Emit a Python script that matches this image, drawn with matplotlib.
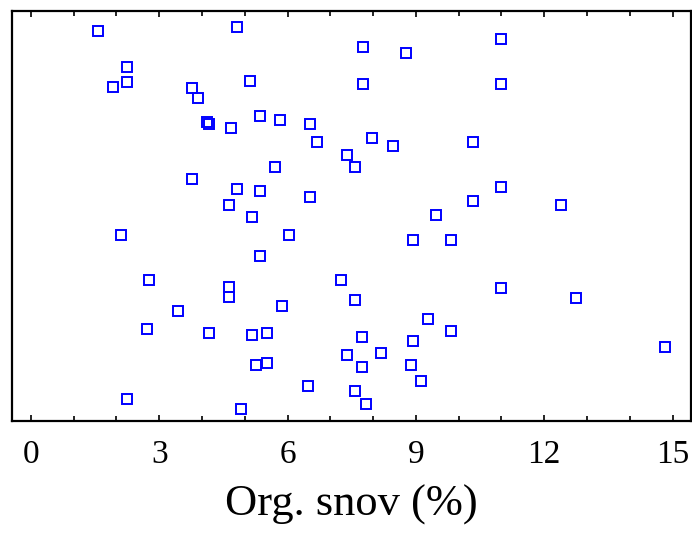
import matplotlib
matplotlib.use("Agg")
import matplotlib.pyplot as plt
from matplotlib.ticker import MultipleLocator

#======================================================================#
## data: organic content (%) and vertical jitter position (0-1)
org_snov = [1.58, 4.81, 2.24, 2.24, 1.93, 3.77, 3.90, 5.12, 4.12, 4.17,
            4.69, 5.35, 5.83, 6.53, 6.70, 7.40, 5.70, 3.77, 4.81, 5.35,
            6.53, 4.64, 5.17, 7.76, 8.77, 11.00, 7.76, 11.00, 7.97, 8.46,
            10.34, 7.58, 11.00, 10.34, 12.40, 9.47, 2.11, 6.04, 5.35, 8.94,
            9.82, 2.77, 4.64, 4.64, 7.24, 5.87, 3.43, 7.58, 11.00, 12.75,
            2.72, 4.17, 5.17, 5.52, 9.29, 9.82, 7.75, 8.94, 5.26, 5.52,
            7.40, 8.19, 7.75, 8.89, 14.81, 6.49, 9.11, 7.58, 2.24, 4.91,
            7.84]
jitter = [0.950, 0.960, 0.864, 0.826, 0.815, 0.811, 0.787, 0.830, 0.729, 0.724,
          0.715, 0.744, 0.734, 0.724, 0.681, 0.648, 0.619, 0.590, 0.566, 0.560,
          0.546, 0.527, 0.498, 0.912, 0.898, 0.932, 0.821, 0.821, 0.691, 0.671,
          0.681, 0.619, 0.570, 0.537, 0.528, 0.502, 0.454, 0.454, 0.402, 0.441,
          0.441, 0.344, 0.328, 0.303, 0.344, 0.281, 0.268, 0.296, 0.325, 0.301,
          0.224, 0.214, 0.209, 0.214, 0.248, 0.219, 0.204, 0.195, 0.137, 0.141,
          0.161, 0.167, 0.132, 0.137, 0.180, 0.085, 0.098, 0.074, 0.054, 0.030,
          0.041]
x_ticks = [0, 3, 6, 9, 12, 15]
x_label = "Org. snov (%)"
#======================================================================#

plt.rcParams['font.family'] = ['Liberation Serif', 'DejaVu Serif']

fig = plt.figure(figsize=(6.92, 5.33), dpi=100)
ax = fig.add_axes([0.0173, 0.2101, 0.9813, 0.7693])

ax.plot(org_snov, jitter, linestyle='none', marker='s', markersize=7.6,
        markerfacecolor='none', markeredgecolor='#0000ff', markeredgewidth=1.4)

ax.set_xlim(-0.44, 15.43)
ax.set_ylim(0, 1)
ax.set_xticks(x_ticks)
ax.xaxis.set_minor_locator(MultipleLocator(1))
ax.set_yticks([])
ax.tick_params(axis='x', which='both', direction='in', top=True, bottom=True,
               width=1.2, labelsize=24, pad=13)
ax.tick_params(axis='x', which='major', length=4.5)
ax.tick_params(axis='x', which='minor', length=3.5)
for s in ax.spines.values():
    s.set_linewidth(1.6)

ax.set_xlabel(x_label, fontsize=32, labelpad=11)

fig.savefig("out.png", dpi=100)
